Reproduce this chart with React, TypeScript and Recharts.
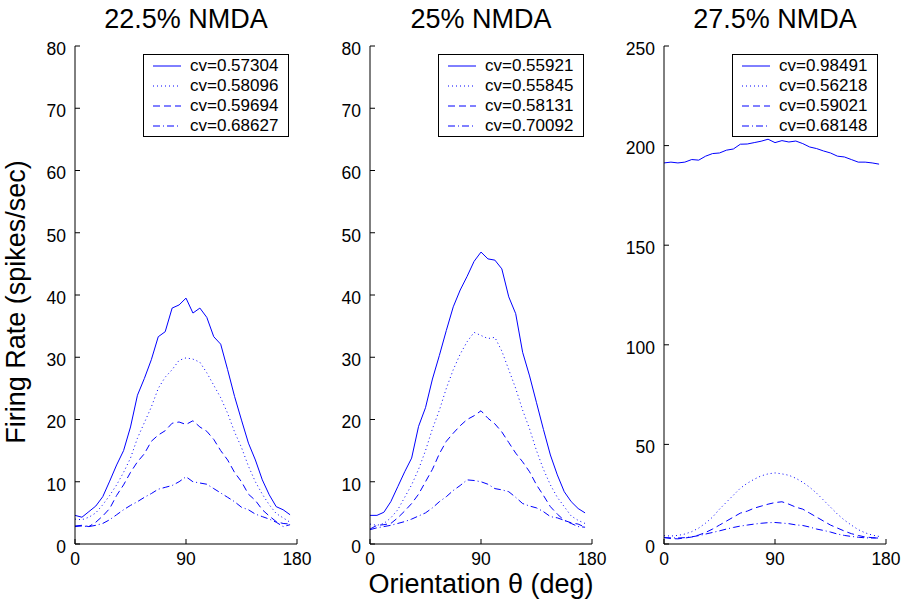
import React from "react";
import { LineChart, Line, XAxis, YAxis, Legend } from "recharts";

// orientation samples (deg)
const theta = [
  0, 5.625, 11.25, 16.875, 22.5, 28.125, 33.75, 39.375, 45, 50.625, 56.25, 61.875,
  67.5, 73.125, 78.75, 84.375, 90, 95.625, 101.25, 106.875, 112.5, 118.125, 123.75,
  129.375, 135, 140.625, 146.25, 151.875, 157.5, 163.125, 168.75, 174.375,
];

const titles = ["22.5% NMDA", "25% NMDA", "27.5% NMDA"];
const cv225 = ["cv=0.57304", "cv=0.58096", "cv=0.59694", "cv=0.68627"];
const cv25 = ["cv=0.55921", "cv=0.55845", "cv=0.58131", "cv=0.70092"];
const cv275 = ["cv=0.98491", "cv=0.56218", "cv=0.59021", "cv=0.68148"];

const rate225a = [4.6, 4.3, 5.2, 6.1, 7.6, 10.1, 12.7, 15.0, 18.8, 23.9, 26.6, 29.6, 33.3, 34.1, 37.9, 38.4, 39.5, 37.1, 37.9, 36.4, 33.3, 32.1, 28.0, 23.7, 19.9, 16.2, 13.5, 10.3, 7.9, 6.0, 5.5, 4.7];
const rate225b = [4.0, 3.9, 4.3, 5.0, 6.3, 7.8, 9.5, 11.5, 13.8, 17.0, 19.5, 22.0, 25.0, 26.8, 28.0, 29.5, 29.9, 29.7, 29.2, 27.5, 25.5, 23.5, 21.0, 18.0, 15.5, 12.5, 10.0, 8.0, 6.3, 4.9, 4.2, 3.5];
const rate225c = [2.9, 3.0, 2.8, 3.5, 4.5, 5.7, 7.8, 9.5, 11.5, 13.2, 14.5, 16.5, 17.5, 18.2, 19.4, 19.6, 19.2, 19.8, 18.8, 18.1, 16.8, 15.0, 13.5, 11.5, 10.0, 8.0, 7.0, 5.5, 4.5, 3.6, 3.3, 3.2];
const rate225d = [2.8, 2.9, 2.8, 3.0, 3.3, 3.9, 4.7, 5.5, 6.2, 6.8, 7.5, 8.1, 8.8, 9.1, 9.4, 10.0, 10.8, 10.0, 9.8, 9.6, 8.9, 8.2, 7.5, 6.8, 5.9, 5.5, 4.8, 4.4, 4.0, 3.5, 2.8, 3.1];

const rate25a = [4.6, 4.6, 5.1, 6.8, 9.2, 11.6, 13.8, 18.9, 21.9, 26.5, 30.3, 34.3, 38.1, 40.8, 43.0, 45.4, 46.9, 45.8, 45.6, 44.2, 39.7, 37.0, 30.8, 27.0, 22.7, 18.4, 14.3, 11.1, 8.4, 6.8, 5.7, 5.0];
const rate25b = [3.2, 3.0, 3.3, 4.2, 5.5, 7.5, 9.5, 12.0, 15.0, 18.5, 21.5, 25.0, 28.0, 30.5, 32.5, 34.0, 33.5, 33.0, 33.2, 31.0, 28.0, 25.0, 21.5, 18.5, 15.0, 12.0, 9.5, 7.5, 6.0, 4.5, 3.8, 3.3];
const rate25c = [2.4, 3.0, 3.1, 3.3, 4.2, 5.3, 6.5, 8.0, 10.0, 12.0, 14.5, 16.5, 17.8, 19.0, 20.0, 20.6, 21.4, 20.2, 19.3, 18.0, 16.3, 14.6, 13.2, 11.6, 9.5, 7.8, 6.0, 4.8, 3.8, 3.4, 3.2, 2.7];
const rate25d = [2.3, 2.6, 2.8, 3.0, 3.3, 3.6, 4.0, 4.5, 5.0, 5.8, 6.8, 7.6, 8.6, 9.4, 10.3, 10.2, 10.0, 9.6, 8.9, 8.7, 8.4, 7.5, 6.5, 6.1, 5.8, 5.2, 4.4, 4.2, 3.8, 3.3, 2.8, 2.7];

const rate275a = [191.3, 191.7, 191.3, 191.7, 193.0, 192.7, 194.7, 196.0, 196.3, 197.7, 198.3, 200.7, 200.8, 201.5, 202.2, 203.2, 201.5, 202.5, 201.8, 202.3, 201.0, 199.3, 198.5, 197.3, 196.3, 194.7, 194.3, 193.0, 191.7, 191.7, 191.3, 190.7];
const rate275b = [4.2, 4.0, 4.3, 5.0, 6.2, 8.0, 10.5, 13.5, 17.5, 21.0, 24.5, 28.0, 30.5, 32.5, 34.2, 35.2, 35.7, 35.2, 34.5, 33.0, 31.0, 28.5, 25.5, 22.0, 18.5, 15.0, 12.0, 9.5, 7.2, 5.6, 4.5, 3.8];
const rate275c = [3.3, 2.7, 2.6, 3.0, 3.5, 4.5, 5.8, 7.5, 9.5, 11.5, 13.5, 15.5, 16.5, 18.0, 19.0, 20.0, 20.8, 21.2, 20.0, 18.5, 17.5, 15.5, 13.5, 11.5, 9.5, 8.0, 6.5, 5.2, 4.3, 3.5, 3.2, 3.0];
const rate275d = [3.2, 3.1, 3.0, 3.2, 3.6, 4.2, 5.0, 5.8, 6.6, 7.5, 8.3, 9.0, 9.5, 10.0, 10.4, 10.7, 10.8, 10.5, 10.2, 9.6, 9.3, 8.5, 7.5, 6.8, 6.0, 5.0, 4.3, 3.8, 3.4, 3.1, 3.0, 3.0];

const xTicks = [0, 90, 180];
const yTicks80 = [0, 10, 20, 30, 40, 50, 60, 70, 80];
const yTicks250 = [0, 50, 100, 150, 200, 250];

const FONT = '"Liberation Sans", Arial, Helvetica, sans-serif';
const BLUE = "#0000ff";
const DASHES = [undefined, "1 3", "7 4", "7 3 1 3"];
const KEYS = ["a", "b", "c", "d"];

function rows(series: number[][]) {
  return theta.map((t, i) => ({
    theta: t,
    a: series[0][i],
    b: series[1][i],
    c: series[2][i],
    d: series[3][i],
  }));
}

const YTick = (props: any) => {
  const { x, y, payload } = props;
  return (
    <g>
      <line x1={x + 9} x2={x + 14} y1={y} y2={y} stroke="#000" />
      <text x={x} y={y} dy="0.5em" textAnchor="end" fontSize={17.5} fontFamily={FONT} fill="#000">
        {payload.value}
      </text>
    </g>
  );
};

const XTick = (props: any) => {
  const { x, y, payload } = props;
  return (
    <g>
      <line x1={x} x2={x} y1={y - 9} y2={y - 14} stroke="#000" />
      <text x={x} y={y} dy="0.71em" textAnchor="middle" fontSize={17.5} fontFamily={FONT} fill="#000">
        {payload.value}
      </text>
    </g>
  );
};

const LegendBox = ({ labels }: { labels: string[] }) => (
  <div
    style={{
      border: "1px solid #000",
      width: 146,
      height: 83,
      boxSizing: "border-box",
      padding: "1px 0 0 9px",
      background: "#fff",
      fontFamily: FONT,
      fontSize: 17,
      color: "#000",
    }}
  >
    {labels.map((l, i) => (
      <div key={l} style={{ display: "flex", alignItems: "center", height: 20 }}>
        <svg width={28} height={4}>
          <line x1={0} x2={28} y1={2} y2={2} stroke={BLUE} strokeDasharray={DASHES[i]} />
        </svg>
        <span style={{ marginLeft: 9, lineHeight: "20px" }}>{l}</span>
      </div>
    ))}
  </div>
);

interface PanelProps {
  title: string;
  labels: string[];
  series: number[][];
  yMax: number;
  yTicks: number[];
  left: number;
  width: number;
  axisWidth: number;
  marginRight: number;
  legendLeft: number;
  yLabel?: boolean;
  xLabel?: boolean;
}

function Panel(p: PanelProps) {
  const plotCenter = p.axisWidth + (p.width - p.axisWidth - p.marginRight) / 2;
  return (
    <div style={{ position: "absolute", left: p.left, top: 0, width: p.width, height: 607 }}>
      <div
        style={{
          position: "absolute",
          left: plotCenter - 120,
          width: 240,
          top: 5.5,
          textAlign: "center",
          fontFamily: FONT,
          fontSize: 27,
          lineHeight: "27px",
          color: "#000",
        }}
      >
        {p.title}
      </div>
      <LineChart
        width={p.width}
        height={607}
        data={rows(p.series)}
        margin={{ top: 46, right: p.marginRight, bottom: 33, left: 0 }}
      >
        <XAxis
          dataKey="theta"
          type="number"
          domain={[0, 180]}
          ticks={xTicks}
          height={30}
          tickSize={9}
          tickMargin={0}
          tickLine={false}
          tick={<XTick />}
          stroke="#000"
          label={
            p.xLabel
              ? {
                  content: (lp: any) => {
                    const vb = lp.viewBox;
                    return (
                      <text
                        x={vb.x + vb.width / 2}
                        y={vb.y + 49}
                        textAnchor="middle"
                        fontSize={27}
                        fontFamily={FONT}
                        fill="#000"
                      >
                        Orientation θ (deg)
                      </text>
                    );
                  },
                }
              : undefined
          }
        />
        <YAxis
          type="number"
          domain={[0, p.yMax]}
          ticks={p.yTicks}
          width={p.axisWidth}
          tickSize={9}
          tickMargin={0}
          tickLine={false}
          tick={<YTick />}
          stroke="#000"
          label={
            p.yLabel
              ? {
                  content: (lp: any) => {
                    const vb = lp.viewBox;
                    const cx = vb.x + 25;
                    const cy = vb.y + vb.height / 2 + 7;
                    return (
                      <text
                        x={cx}
                        y={cy}
                        transform={`rotate(-90 ${cx} ${cy})`}
                        textAnchor="middle"
                        fontSize={27}
                        fontFamily={FONT}
                        fill="#000"
                      >
                        Firing Rate (spikes/sec)
                      </text>
                    );
                  },
                }
              : undefined
          }
        />
        <Legend
          layout="horizontal"
          align="center"
          verticalAlign="middle"
          wrapperStyle={{ left: p.legendLeft, top: 54, width: 146, height: 83 }}
          content={() => <LegendBox labels={p.labels} />}
        />
        {KEYS.map((k, i) => (
          <Line
            key={k}
            dataKey={k}
            name={p.labels[i]}
            type="linear"
            stroke={BLUE}
            strokeWidth={1}
            strokeDasharray={DASHES[i]}
            dot={false}
            activeDot={false}
            isAnimationActive={false}
          />
        ))}
      </LineChart>
    </div>
  );
}

export default function App() {
  return (
    <div style={{ position: "absolute", left: 0, top: 0, width: 906, height: 607, background: "#fff" }}>
      <Panel
        title={titles[0]}
        labels={cv225}
        series={[rate225a, rate225b, rate225c, rate225d]}
        yMax={80}
        yTicks={yTicks80}
        left={0}
        width={325}
        axisWidth={75}
        marginRight={28}
        legendLeft={143}
        yLabel
      />
      <Panel
        title={titles[1]}
        labels={cv25}
        series={[rate25a, rate25b, rate25c, rate25d]}
        yMax={80}
        yTicks={yTicks80}
        left={300}
        width={325}
        axisWidth={70}
        marginRight={33}
        legendLeft={138}
        xLabel
      />
      <Panel
        title={titles[2]}
        labels={cv275}
        series={[rate275a, rate275b, rate275c, rate275d]}
        yMax={250}
        yTicks={yTicks250}
        left={600}
        width={306}
        axisWidth={64}
        marginRight={20}
        legendLeft={132}
      />
    </div>
  );
}
